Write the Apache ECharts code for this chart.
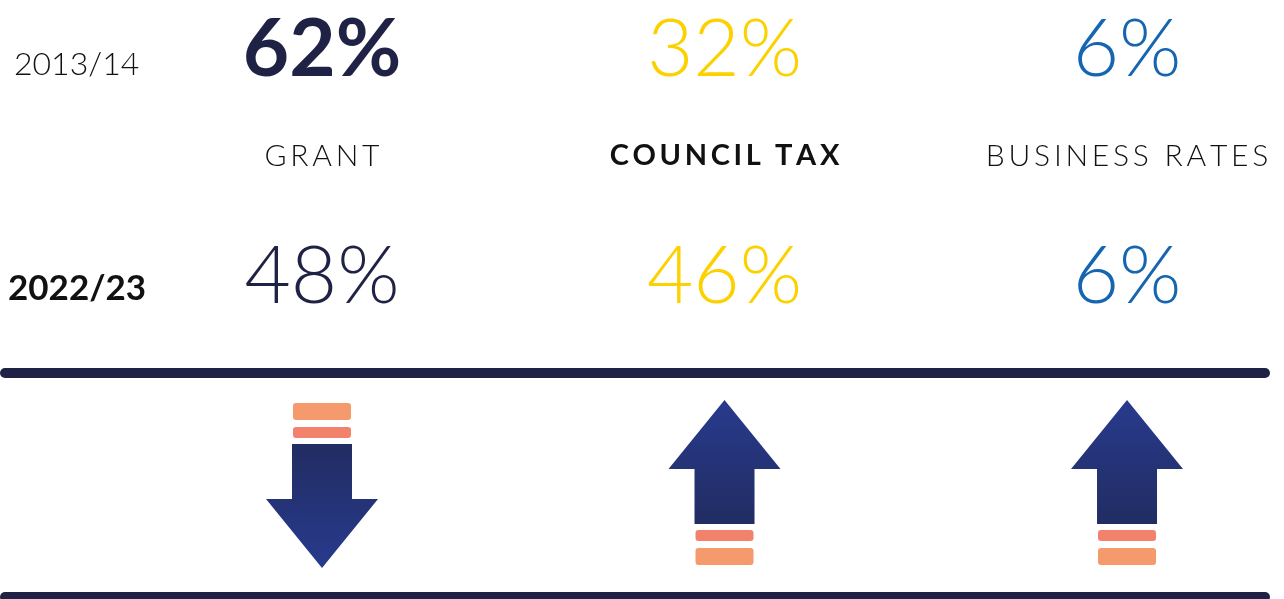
<!DOCTYPE html>
<html>
<head>
<meta charset="utf-8">
<title>Funding sources</title>
<script src="https://cdn.jsdelivr.net/npm/echarts@6/dist/echarts.min.js"></script>
<style>
  html, body { margin: 0; padding: 0; background: #fff; }
  #chart { width: 1284px; height: 599px; }
</style>
</head>
<body>
<div id="chart"></div>
<script>
// data
const sources = ['GRANT', 'COUNCIL TAX', 'BUSINESS RATES']
const years = ['2013/14', '2022/23']
const share2013 = [62, 32, 6]
const share2022 = [48, 46, 6]
const trend = ['down', 'up', 'up']

// layout (pixel rows on the hidden y axis)
const ROW = { before: 50, label: 156, after: 277, arrow: 484 }
const NAVY = '#1f2244'
const colColors = [NAVY, '#fdd000', '#1565b0']
const FONT = 'Lato, "Noto Sans", sans-serif'

// spread letters a bit, zrender has no letter-spacing
function spaced(str, sep) {
  return str.split('').join(sep)
}

const chart = echarts.init(document.getElementById('chart'))

const pctData = (values, row, boldIdx) =>
  values.map((v, i) => ({
    value: [i, row, v],
    label: {
      color: colColors[i],
      fontWeight: i === boldIdx ? 'bold' : 300
    }
  }))

const option = {
  animation: false,
  grid: { left: 0, right: 0, top: 0, bottom: 0 },
  // column index on a value axis so the three columns sit where the picture has them
  xAxis: { type: 'value', min: -0.8, max: 2.39, show: false },
  yAxis: { type: 'value', min: 0, max: 599, inverse: true, show: false },
  graphic: [
    { type: 'rect', shape: { x: 0, y: 368, width: 1270, height: 10, r: 5 }, style: { fill: NAVY } },
    { type: 'rect', shape: { x: 0, y: 592, width: 1270, height: 10, r: 5 }, style: { fill: NAVY } },
    {
      type: 'text', left: 14, top: 49,
      style: { text: years[0], font: '300 32px ' + FONT, fill: '#111' }
    },
    {
      type: 'text', left: 8, top: 271,
      style: { text: years[1], font: 'bold 35px ' + FONT, fill: '#111' }
    }
  ],
  series: [
    // 2013/14 shares
    {
      type: 'scatter',
      symbolSize: 0,
      itemStyle: { opacity: 1 },
      data: pctData(share2013, ROW.before, 0),
      label: {
        show: true, position: 'inside', fontSize: 80, fontFamily: FONT,
        formatter: (p) => p.value[2] + '%'
      }
    },
    // 2022/23 shares
    {
      type: 'scatter',
      symbolSize: 0,
      itemStyle: { opacity: 1 },
      data: pctData(share2022, ROW.after, -1),
      label: {
        show: true, position: 'inside', fontSize: 80, fontFamily: FONT,
        formatter: (p) => p.value[2] + '%'
      }
    },
    // source names
    {
      type: 'scatter',
      symbolSize: 0,
      itemStyle: { opacity: 1 },
      data: sources.map((s, i) => ({
        value: [i, ROW.label],
        name: s,
        label: i === 1
          ? { fontWeight: 'bold', fontSize: 29, formatter: spaced(s, '\u2009') }
          : { fontWeight: 300, formatter: spaced(s, '\u2009') }
      })),
      label: {
        show: true, position: 'inside', fontSize: 30, fontFamily: FONT, color: '#111'
      }
    },
    // trend arrows
    {
      type: 'custom',
      data: trend.map((t, i) => [i, t === 'up' ? 1 : -1]),
      encode: { x: 0 },
      renderItem: (params, api) => {
        const c = api.coord([api.value(0), ROW.arrow])
        const dir = api.value(1)
        const y = (d) => c[1] + dir * d
        const head = 56
        const shaft = 30
        const bar = 29
        const bright = '#283a8d'
        const dark = '#212d62'
        const pts = [
          [c[0], y(-84)],
          [c[0] + head, y(-15)],
          [c[0] + shaft, y(-15)],
          [c[0] + shaft, y(40)],
          [c[0] - shaft, y(40)],
          [c[0] - shaft, y(-15)],
          [c[0] - head, y(-15)]
        ]
        const barRect = (a, b) => ({
          x: c[0] - bar,
          y: Math.min(y(a), y(b)),
          width: bar * 2,
          height: Math.abs(b - a),
          r: 3
        })
        return {
          type: 'group',
          children: [
            {
              type: 'polygon',
              shape: { points: pts },
              style: {
                fill: new echarts.graphic.LinearGradient(0, 0, 0, 1, [
                  { offset: 0, color: dir > 0 ? bright : dark },
                  { offset: 1, color: dir > 0 ? dark : bright }
                ])
              }
            },
            { type: 'rect', shape: barRect(46, 57), style: { fill: '#f2826c' } },
            { type: 'rect', shape: barRect(64, 81), style: { fill: '#f49a6c' } }
          ]
        }
      }
    }
  ]
}

chart.setOption(option)
</script>
</body>
</html>
